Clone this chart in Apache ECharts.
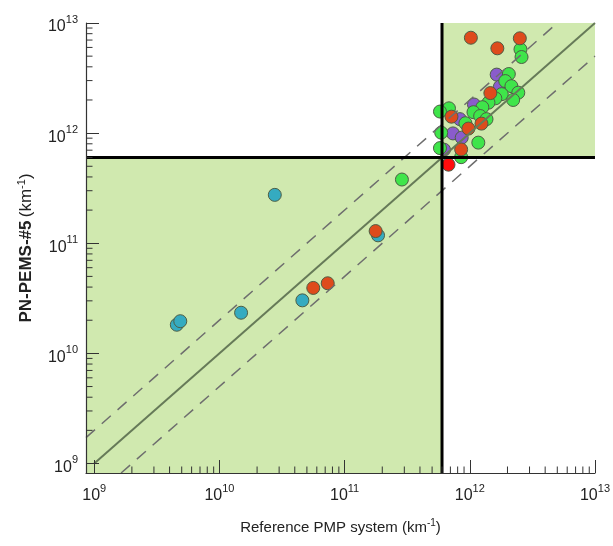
<!DOCTYPE html>
<html>
<head>
<meta charset="utf-8">
<script src="https://cdn.jsdelivr.net/npm/echarts@6/dist/echarts.min.js"></script>
<style>
html,body{margin:0;padding:0;background:#fff;}
#chart{width:613px;height:546px;}
</style>
</head>
<body>
<div id="chart"></div>
<script>
// ---- axis settings / tick labels ----
const decadeExponents = [9, 10, 11, 12, 13];
const X_MIN = 8.6e8, Y_MIN = 8.2e8, AXIS_MAX = 1e13;
const THRESHOLD = 6e11;
const xAxisName = 'Reference PMP system (km';
const yAxisNameBold = 'PN-PEMS-#5';
const unitSup = '-1';

// ---- data (x: reference PMP system, y: PN-PEMS-#5) ----
const tealX = [4.57e9, 4.87e9, 1.49e10, 2.77e10, 4.60e10, 1.85e11];
const tealY = [1.82e10, 1.96e10, 2.34e10, 2.75e11, 3.03e10, 1.18e11];

const purpleX = [1.64e12, 1.74e12, 1.08e12, 8.34e11, 7.34e11, 8.62e11, 6.22e11];
const purpleY = [3.40e12, 2.64e12, 1.82e12, 1.34e12, 9.94e11, 9.10e11, 7.08e11];

const greenX = [2.87e11, 2.54e12, 2.59e12, 2.05e12, 1.92e12, 2.15e12, 2.44e12, 1.80e12, 2.22e12, 1.60e12, 1.41e12,
                1.26e12, 1.07e12, 6.82e11, 5.78e11, 1.21e12, 9.23e11, 5.91e11, 1.17e12, 8.53e11, 5.78e11, 1.36e12];
const greenY = [3.79e11, 5.77e12, 4.91e12, 3.44e12, 2.97e12, 2.67e12, 2.33e12, 2.26e12, 2.00e12, 2.07e12, 1.89e12,
                1.72e12, 1.55e12, 1.68e12, 1.57e12, 1.43e12, 1.23e12, 1.01e12, 8.20e11, 6.05e11, 7.31e11, 1.34e12];

const orangeX = [5.62e10, 7.33e10, 1.77e11, 1.02e12, 2.51e12, 1.66e12, 1.46e12, 7.14e11, 1.24e12, 9.75e11, 8.53e11];
const orangeY = [3.93e10, 4.33e10, 1.29e11, 7.35e12, 7.26e12, 5.89e12, 2.31e12, 1.41e12, 1.22e12, 1.10e12, 7.11e11];

const redX = [6.76e11];
const redY = [5.17e11];

// minor tick multipliers
const minorMult = [2, 3, 4, 5, 6, 7, 8, 9];

function zip(a, b) { return a.map((v, i) => [v, b[i]]); }

const minorVals = [];
for (let e = decadeExponents[0]; e < decadeExponents[decadeExponents.length - 1]; e++)
  for (const m of minorMult) minorVals.push(m * Math.pow(10, e));

const FONT = '"Liberation Sans", Arial, sans-serif';
const labelRich = {
  b: { fontSize: 16, fontFamily: FONT, color: '#222', lineHeight: 16, verticalAlign: 'bottom' },
  s: { fontSize: 11, fontFamily: FONT, color: '#222', lineHeight: 11, padding: [0, 0, 10, 0], verticalAlign: 'bottom' }
};
function powLabel(v) {
  const e = Math.round(Math.log10(v));
  return '{b|10}{s|' + e + '}';
}

function scatter(name, xs, ys, color, z) {
  return {
    name, type: 'scatter', z,
    data: zip(xs, ys),
    symbolSize: 13,
    itemStyle: { color, borderColor: '#4d5e45', borderWidth: 1, opacity: 1 },
    silent: true
  };
}
function seg(data, color, width, type, z) {
  return {
    type: 'line', data, z, showSymbol: false, symbol: 'none', silent: true,
    lineStyle: { color, width, type }, animation: false
  };
}

const chart = echarts.init(document.getElementById('chart'), null, { renderer: 'canvas' });
const option = {
  animation: false,
  backgroundColor: '#fff',
  grid: { left: 86, right: 16, top: 23, bottom: 73, containLabel: false },
  xAxis: {
    type: 'log', logBase: 10, min: X_MIN, max: AXIS_MAX, z: 10,
    axisLine: { show: true, lineStyle: { color: '#333', width: 1.2 } },
    axisTick: { show: true, inside: true, length: 13, lineStyle: { color: '#333', width: 1 } },
    axisLabel: { show: true, showMinLabel: false, margin: 15, formatter: powLabel, rich: labelRich },
    splitLine: { show: false },
    name: '{n|' + xAxisName + '}{s|' + unitSup + '}{n|)}',
    nameLocation: 'middle', nameGap: 47,
    nameTextStyle: {
      rich: {
        n: { fontSize: 15, fontFamily: FONT, color: '#222', lineHeight: 15, verticalAlign: 'bottom' },
        s: { fontSize: 10, fontFamily: FONT, color: '#222', lineHeight: 10, padding: [0, 0, 7, 0], verticalAlign: 'bottom' }
      }
    }
  },
  yAxis: {
    type: 'log', logBase: 10, min: Y_MIN, max: AXIS_MAX, z: 10,
    axisLine: { show: true, lineStyle: { color: '#333', width: 1.2 } },
    axisTick: { show: true, inside: true, length: 13, lineStyle: { color: '#333', width: 1 } },
    axisLabel: { show: true, showMinLabel: false, margin: 8, padding: [8, 0, 0, 0], formatter: powLabel, rich: labelRich },
    splitLine: { show: false },
    name: '{bb|' + yAxisNameBold + '} {n|(km}{s|' + unitSup + '}{n|)}',
    nameLocation: 'middle', nameGap: 51, nameRotate: 90,
    nameTextStyle: {
      rich: {
        bb: { fontSize: 17, fontWeight: 'bold', fontFamily: FONT, color: '#222', lineHeight: 17, verticalAlign: 'bottom' },
        n: { fontSize: 17, fontFamily: FONT, color: '#222', lineHeight: 17, verticalAlign: 'bottom' },
        s: { fontSize: 11, fontFamily: FONT, color: '#222', lineHeight: 11, padding: [0, 0, 8, 0], verticalAlign: 'bottom' }
      }
    }
  },
  series: [
    {
      type: 'scatter', data: [], z: 1, silent: true,
      markArea: {
        silent: true,
        itemStyle: { color: '#d0e9af', borderWidth: 0 },
        data: [
          [{ coord: [X_MIN, Y_MIN] }, { coord: [THRESHOLD, THRESHOLD] }],
          [{ coord: [THRESHOLD, THRESHOLD] }, { coord: [AXIS_MAX, AXIS_MAX] }]
        ]
      }
    },
    scatter('teal', tealX, tealY, '#35abc0', 3),
    scatter('purple', purpleX, purpleY, '#8a5ccc', 3),
    scatter('green', greenX, greenY, '#3fe54a', 3),
    scatter('orange', orangeX, orangeY, '#de4b1c', 3),
    scatter('red', redX, redY, '#ff0d0d', 3),
    // 1:1 line
    seg([[1e9, 1e9], [AXIS_MAX, AXIS_MAX]], '#667a58', 2, 'solid', 4),
    // factor-of-2 lines
    seg([[X_MIN, 2 * X_MIN], [AXIS_MAX / 2, AXIS_MAX]], '#6e6e6e', 1.5, [12, 9], 4),
    seg([[2 * Y_MIN, Y_MIN], [AXIS_MAX, AXIS_MAX / 2]], '#6e6e6e', 1.5, [12, 9], 4),
    // threshold lines
    seg([[X_MIN, THRESHOLD], [AXIS_MAX, THRESHOLD]], '#000', 3, 'solid', 5),
    seg([[THRESHOLD, Y_MIN], [THRESHOLD, AXIS_MAX]], '#000', 3, 'solid', 5),
    // minor ticks (x axis)
    {
      type: 'custom', z: 12, silent: true, clip: false,
      data: minorVals.map(v => [v, Y_MIN]),
      renderItem: (params, api) => {
        const p = api.coord([api.value(0), api.value(1)]);
        return { type: 'line', shape: { x1: p[0], y1: p[1], x2: p[0], y2: p[1] - 6.5 }, style: { stroke: '#333', lineWidth: 1 } };
      }
    },
    // minor ticks (y axis)
    {
      type: 'custom', z: 12, silent: true, clip: false,
      data: minorVals.map(v => [X_MIN, v]),
      renderItem: (params, api) => {
        const p = api.coord([api.value(0), api.value(1)]);
        return { type: 'line', shape: { x1: p[0], y1: p[1], x2: p[0] + 6.5, y2: p[1] }, style: { stroke: '#333', lineWidth: 1 } };
      }
    }
  ]
};
chart.setOption(option);
</script>
</body>
</html>
